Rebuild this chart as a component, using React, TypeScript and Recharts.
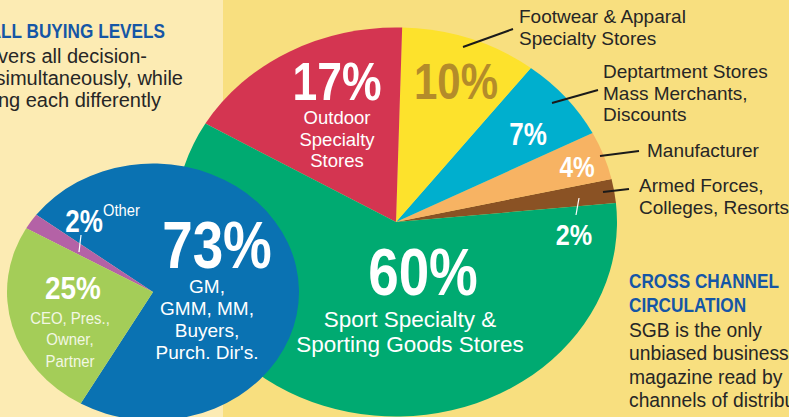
import { PieChart, Pie, Cell } from "recharts";

// big pie: retail channels (counter-clockwise from the brown slice)
const channelNames = [
  "Armed Forces, Colleges, Resorts",
  "Manufacturer",
  "Deptartment Stores Mass Merchants, Discounts",
  "Footwear & Apparal Specialty Stores",
  "Outdoor Specialty Stores",
  "Sport Specialty & Sporting Goods Stores",
];
const channelShares = [2, 4, 7, 10, 17, 60];
const channelColors = ["#8a5224", "#f7b363", "#00afce", "#fde22c", "#d43551", "#00aa71"];

// small pie: buying levels
const levelNames = ["GM, GMM, MM, Buyers, Purch. Dir's.", "Other", "CEO, Pres., Owner, Partner"];
const levelShares = [73, 2, 25];
const levelColors = ["#0a72b2", "#b462a6", "#a4cd58"];

const channelData = channelNames.map((name, i) => ({ name, value: channelShares[i] }));
const levelData = levelNames.map((name, i) => ({ name, value: levelShares[i] }));

const SQUASH = 0.88; // pies are drawn as ellipses
const SANS = "'Liberation Sans', Arial, sans-serif";
const BLUE = "#1556a6";
const INK = "#262626";

function EllipseSector(props: any) {
  const { cx, cy, outerRadius, startAngle, endAngle, fill } = props;
  const rx = outerRadius;
  const ry = outerRadius * SQUASH;
  const rad = Math.PI / 180;
  const x1 = cx + rx * Math.cos(startAngle * rad);
  const y1 = cy - ry * Math.sin(startAngle * rad);
  const x2 = cx + rx * Math.cos(endAngle * rad);
  const y2 = cy - ry * Math.sin(endAngle * rad);
  const sweep = endAngle - startAngle;
  const large = Math.abs(sweep) > 180 ? 1 : 0;
  const dir = sweep > 0 ? 0 : 1;
  return (
    <path
      d={`M${cx},${cy}L${x1},${y1}A${rx},${ry} 0 ${large} ${dir} ${x2},${y2}Z`}
      fill={fill}
    />
  );
}

// text block; sx < 1 squeezes it to imitate the condensed face
function Txt({
  x,
  y,
  lines,
  size,
  gap = 0,
  fill,
  anchor = "start",
  weight = "normal",
  sx = 1,
}: {
  x: number;
  y: number;
  lines: string[];
  size: number;
  gap?: number;
  fill: string;
  anchor?: string;
  weight?: string;
  sx?: number;
}) {
  return (
    <text
      transform={`translate(${x},${y}) scale(${sx},1)`}
      fontSize={size}
      fill={fill}
      textAnchor={anchor}
      fontFamily={SANS}
      fontWeight={weight}
    >
      {lines.map((l, i) => (
        <tspan key={i} x={0} dy={i === 0 ? 0 : gap}>
          {l}
        </tspan>
      ))}
    </text>
  );
}

const NUM = 0.84;

export default function App() {
  return (
    <div
      style={{
        position: "absolute",
        left: 0,
        top: 0,
        width: 789,
        height: 417,
        overflow: "hidden",
        background: "linear-gradient(to right, #fcebb3 0px, #fcebb3 223px, #f8df7f 223px)",
      }}
    >
      <PieChart width={789} height={417} margin={{ top: 0, right: 0, bottom: 0, left: 0 }}>
        <Pie
          data={channelData}
          dataKey="value"
          cx={396}
          cy={222}
          innerRadius={0}
          outerRadius={221}
          startAngle={5.6}
          endAngle={365.6}
          stroke="none"
          shape={EllipseSector}
          isAnimationActive={false}
        >
          {channelData.map((d, i) => (
            <Cell key={d.name} fill={channelColors[i]} />
          ))}
        </Pie>
        <Pie
          data={levelData}
          dataKey="value"
          cx={153}
          cy={292}
          innerRadius={0}
          outerRadius={146}
          startAngle={-119.7}
          endAngle={240.3}
          stroke="none"
          shape={EllipseSector}
          isAnimationActive={false}
        >
          {levelData.map((d, i) => (
            <Cell key={d.name} fill={levelColors[i]} />
          ))}
        </Pie>
      </PieChart>

      <svg
        width={789}
        height={417}
        style={{ position: "absolute", left: 0, top: 0, pointerEvents: "none" }}
      >
        {/* left copy (clipped at the page edge) */}
        <Txt x={165} y={38} lines={["ALL BUYING LEVELS"]} size={20} weight="bold" fill={BLUE} anchor="end" sx={0.86} />
        <Txt x={147} y={63} lines={["covers all decision-"]} size={20} fill={INK} anchor="end" />
        <Txt x={183} y={85} lines={["simultaneously, while"]} size={20} fill={INK} anchor="end" />
        <Txt x={161} y={107} lines={["reaching each differently"]} size={20} fill={INK} anchor="end" />

        {/* right copy */}
        <Txt x={629} y={288} lines={["CROSS CHANNEL", "CIRCULATION"]} size={20} gap={24} fill={BLUE} weight="bold" sx={0.86} />
        <Txt
          x={629}
          y={337}
          lines={["SGB is the only", "unbiased business", "magazine read by", "channels of distribution"]}
          size={19.3}
          gap={23.3}
          fill={INK}
        />

        {/* big pie labels */}
        <Txt x={337} y={100} lines={[`${channelShares[4]}%`]} size={53} weight="bold" fill="#fff" anchor="middle" sx={NUM} />
        <Txt x={337} y={124} lines={["Outdoor", "Specialty", "Stores"]} size={18.5} gap={21.5} fill="#fff" anchor="middle" />
        <Txt x={456} y={99} lines={[`${channelShares[3]}%`]} size={50} weight="bold" fill="#b48c2a" anchor="middle" sx={NUM} />
        <Txt x={528} y={145} lines={[`${channelShares[2]}%`]} size={31} weight="bold" fill="#fff" anchor="middle" sx={NUM} />
        <Txt x={577} y={177} lines={[`${channelShares[1]}%`]} size={29} weight="bold" fill="#fff" anchor="middle" sx={NUM} />
        <Txt x={574} y={245} lines={[`${channelShares[0]}%`]} size={30} weight="bold" fill="#fff" anchor="middle" sx={NUM} />
        <line x1={579} y1={198} x2={576} y2={215} stroke="#fff" strokeWidth={1.2} />
        <Txt x={423} y={295} lines={[`${channelShares[5]}%`]} size={66} weight="bold" fill="#fff" anchor="middle" sx={0.83} />
        <Txt x={410} y={327} lines={["Sport Specialty &", "Sporting Goods Stores"]} size={22.5} gap={25} fill="#fff" anchor="middle" />

        {/* callouts */}
        <Txt x={519} y={23} lines={["Footwear & Apparal", "Specialty Stores"]} size={19} gap={22} fill={INK} />
        <line x1={463} y1={47} x2={513} y2={29} stroke="#1a1a1a" strokeWidth={2} />
        <Txt x={603} y={78} lines={["Deptartment Stores", "Mass Merchants,", "Discounts"]} size={19} gap={21.5} fill={INK} />
        <line x1={552} y1={103} x2={598} y2={90} stroke="#1a1a1a" strokeWidth={2} />
        <Txt x={647} y={157} lines={["Manufacturer"]} size={19} fill={INK} />
        <line x1={600} y1={156} x2={639} y2={151} stroke="#1a1a1a" strokeWidth={2} />
        <Txt x={639} y={192} lines={["Armed Forces,", "Colleges, Resorts"]} size={19} gap={21.5} fill={INK} />
        <line x1={603} y1={192} x2={629} y2={189} stroke="#1a1a1a" strokeWidth={2} />

        {/* small pie labels */}
        <Txt x={217} y={268} lines={[`${levelShares[0]}%`]} size={66} weight="bold" fill="#fff" anchor="middle" sx={0.83} />
        <Txt x={207} y={293} lines={["GM,", "GMM, MM,", "Buyers,", "Purch. Dir's."]} size={19} gap={22} fill="#fff" anchor="middle" />
        <Txt x={73} y={299} lines={[`${levelShares[2]}%`]} size={31} weight="bold" fill="#fff" anchor="middle" sx={0.9} />
        <Txt x={70} y={324} lines={["CEO, Pres.,", "Owner,", "Partner"]} size={17} gap={21.5} fill="#f2f7e4" anchor="middle" sx={0.88} />
        <Txt x={84} y={232} lines={[`${levelShares[1]}%`]} size={31} weight="bold" fill="#fff" anchor="middle" sx={NUM} />
        <Txt x={103} y={216} lines={[levelNames[1]]} size={16} fill="#fff" sx={0.92} />
        <line x1={81} y1={235} x2={79} y2={252} stroke="#fff" strokeWidth={1.2} />
      </svg>
    </div>
  );
}
